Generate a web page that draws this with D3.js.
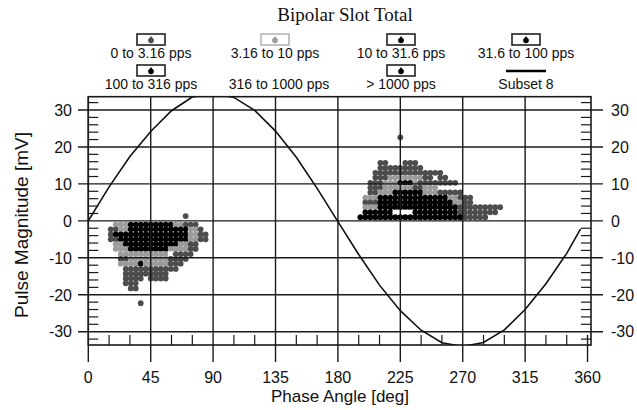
<!DOCTYPE html>
<html>
<head>
<meta charset="utf-8">
<script src="https://cdnjs.cloudflare.com/ajax/libs/d3/7.8.5/d3.min.js"></script>
<style>
  body { margin: 0; background: #fff; }
  svg { display: block; font-family: "Liberation Sans", Arial, sans-serif; }
</style>
</head>
<body>
<div id="chart"></div>
<script>
const width = 637
const height = 410

const categories = ["0 to 3.16 pps", "3.16 to 10 pps", "10 to 31.6 pps", "31.6 to 100 pps",
                    "100 to 316 pps", "316 to 1000 pps", "> 1000 pps"]
const curveName = "Subset 8"

const phaseTicks = [0, 45, 90, 135, 180, 225, 270, 315, 360]
const magTicks = [-30, -20, -10, 0, 10, 20, 30]

// reference sine (Subset 8), read every 15 deg
const curvePhase = [0, 15, 30, 45, 60, 75, 90, 105, 120, 135, 150, 165, 180,
                    195, 210, 225, 240, 255, 270, 285, 300, 315, 330, 345, 355]
const curveMag = [0, 9.2, 17.4, 24.2, 29.8, 33.5, 34.6, 33.4, 29.9, 24.3, 17.2, 8.8, -0.2,
                  -9.1, -17.4, -24.3, -29.6, -33.0, -34.0, -32.9, -29.5, -24.0, -17.0, -8.8, -2.2]

// pulse rows: [magnitude mV, [[phase from, phase to, category index], ...]]
const leftRows = [
  [1.3, [[70, 70, 0]]],
  [-1.0, [[20, 27, 1], [30, 59, 2], [63, 66, 1], [70, 77, 0]]],
  [-2.3, [[16, 20, 0], [23, 27, 1], [30, 70, 3], [74, 77, 1], [81, 81, 0]]],
  [-3.7, [[16, 16, 0], [20, 70, 2], [74, 77, 1], [81, 85, 0]]],
  [-5.0, [[16, 20, 0], [23, 70, 4], [74, 77, 1], [81, 85, 0]]],
  [-6.3, [[20, 23, 1], [27, 63, 6], [66, 70, 1], [74, 77, 0]]],
  [-7.6, [[20, 27, 1], [30, 56, 3], [59, 70, 1], [74, 77, 0]]],
  [-9.0, [[23, 56, 1], [59, 59, 5], [63, 74, 0]]],
  [-10.3, [[23, 27, 0], [30, 56, 1], [59, 70, 0]]],
  [-11.6, [[23, 34, 1], [38, 38, 2], [41, 56, 1], [59, 66, 0]]],
  [-13.0, [[27, 52, 0], [56, 63, 0]]],
  [-14.3, [[27, 56, 0]]],
  [-15.6, [[27, 38, 0], [45, 56, 0]]],
  [-16.9, [[27, 34, 0]]],
  [-18.3, [[30, 34, 0]]],
  [-22.3, [[38, 38, 0]]]
]
const rightRows = [
  [22.6, [[225, 225, 0]]],
  [15.7, [[211, 214, 0], [230, 237, 0]]],
  [14.3, [[211, 232, 0], [236, 239, 0]]],
  [13.0, [[208, 246, 0], [250, 254, 0]]],
  [11.7, [[207, 214, 0], [217, 239, 1], [243, 247, 0], [254, 257, 0]]],
  [10.3, [[205, 210, 0], [214, 221, 1], [225, 232, 2], [236, 236, 1], [239, 247, 0], [250, 264, 0]]],
  [9.0, [[204, 210, 0], [214, 232, 1], [236, 239, 0], [243, 250, 1]]],
  [7.7, [[204, 207, 0], [210, 217, 1], [221, 239, 2], [243, 250, 1], [254, 261, 0], [265, 268, 0]]],
  [6.3, [[201, 207, 1], [210, 257, 2], [261, 264, 1], [268, 275, 0]]],
  [5.0, [[201, 207, 0], [210, 261, 3], [264, 268, 1], [272, 275, 0]]],
  [3.7, [[199, 207, 1], [210, 264, 4], [268, 282, 0], [286, 297, 0]]],
  [2.3, [[199, 217, 6], [221, 232, 5], [236, 264, 2], [268, 293, 0]]],
  [1.0, [[196, 268, 6], [272, 286, 0]]]
]

const binWidth = 3.6

const svg = d3.select("#chart").append("svg")
    .attr("width", width)
    .attr("height", height)
    .style("background-color", "#fff")

const x = d3.scaleLinear().domain([0, 362.5]).range([88.3, 591])
const y = d3.scaleLinear().domain([-33.6, 33.6]).range([345, 96.7])
const color = d3.scaleOrdinal()
    .domain(d3.range(categories.length))
    .range(["#4d4d4d", "#9c9c9c", "#000", "#000", "#000", "#fff", "#000"])

// expand the row runs into phase bins
const pulses = []
for (const [mag, runs] of leftRows.concat(rightRows)) {
    for (const [from, to, cat] of runs) {
        const k0 = Math.round((from - binWidth / 2) / binWidth)
        const k1 = Math.round((to - binWidth / 2) / binWidth)
        for (let k = k0; k <= k1; k++) {
            pulses.push({ phase: binWidth / 2 + k * binWidth, mag: mag, cat: cat })
        }
    }
}

// title
svg.append("text")
    .attr("x", 345).attr("y", 21)
    .attr("text-anchor", "middle")
    .style("font-family", "'Liberation Serif', 'Times New Roman', serif")
    .style("font-size", "19px")
    .attr("fill", "#111")
    .text("Bipolar Slot Total")

// legend
const legendX = [151, 275, 401, 526]
const legendItems = categories.map((c, i) => ({ label: c, cat: i })).concat([{ label: curveName, cat: -1 }])
const legend = svg.append("g").attr("id", "legend")
legendItems.forEach((d, i) => {
    const cx = legendX[i % 4] + (i >= 4 && i % 4 === 1 ? 4 : 0)
    const row = Math.floor(i / 4)
    const by = row === 0 ? 34 : 65
    const g = legend.append("g")
    if (d.cat === -1) {
        g.append("line")
            .attr("x1", legendX[3] - 20).attr("x2", legendX[3] + 20)
            .attr("y1", 71).attr("y2", 71)
            .attr("stroke", "#000").attr("stroke-width", 2.5)
    } else if (d.cat !== 5) {
        const stroke = d.cat === 1 ? "#b5b5b5" : "#222"
        const bx = legendX[i % 4]
        g.append("rect")
            .attr("x", bx - 14).attr("y", by)
            .attr("width", 28).attr("height", 11)
            .attr("fill", "#fff")
            .attr("stroke", stroke).attr("stroke-width", 1.6)
        g.append("circle")
            .attr("cx", bx).attr("cy", by + 6.5).attr("r", 2.8)
            .attr("fill", color(d.cat))
        g.append("path")
            .attr("d", `M${bx - 2.9},${by + 6.3}L${bx},${by + 2}L${bx + 2.9},${by + 6.3}Z`)
            .attr("fill", color(d.cat))
    }
    g.append("text")
        .attr("x", cx).attr("y", row === 0 ? 58 : 89)
        .attr("text-anchor", "middle")
        .style("font-size", "14px")
        .attr("fill", "#111")
        .text(d.label)
})

// pulse dots
const dots = svg.append("g").attr("id", "pulses")
dots.selectAll(".pulse")
    .data(pulses)
    .join("circle")
    .attr("class", "pulse")
    .attr("cx", d => x(d.phase))
    .attr("cy", d => y(d.mag))
    .attr("r", 2.9)
    .attr("fill", d => color(d.cat))

const ink = "#1a1a1a"
const axes = svg.append("g").attr("id", "axes")
    .attr("stroke", ink)

// horizontal grid lines, poking out both sides as ticks
axes.selectAll(".hgrid")
    .data(magTicks)
    .join("line")
    .attr("class", "hgrid")
    .attr("x1", 78).attr("x2", 603)
    .attr("y1", d => y(d)).attr("y2", d => y(d))
    .attr("stroke-width", 1.4)

// vertical grid lines, running down as major ticks
axes.selectAll(".vgrid")
    .data(phaseTicks)
    .join("line")
    .attr("class", "vgrid")
    .attr("x1", d => x(d)).attr("x2", d => x(d))
    .attr("y1", d => d === 360 ? 335 : y.range()[1])
    .attr("y2", 362)
    .attr("stroke-width", 1.4)

// minor ticks
const minorMag = d3.range(-32, 33, 2).filter(v => v % 10 !== 0)
axes.selectAll(".yminorL")
    .data(minorMag)
    .join("line")
    .attr("x1", x(0)).attr("x2", x(0) + 10)
    .attr("y1", d => y(d)).attr("y2", d => y(d))
    .attr("stroke-width", 1.2)
axes.selectAll(".yminorR")
    .data(minorMag)
    .join("line")
    .attr("x1", 591 - 10).attr("x2", 591)
    .attr("y1", d => y(d)).attr("y2", d => y(d))
    .attr("stroke-width", 1.2)
const minorPhase = d3.range(15, 360, 15).filter(v => v % 45 !== 0)
axes.selectAll(".xminor")
    .data(minorPhase)
    .join("line")
    .attr("x1", d => x(d)).attr("x2", d => x(d))
    .attr("y1", 335).attr("y2", 345)
    .attr("stroke-width", 1.2)

// frame
axes.append("rect")
    .attr("x", x(0)).attr("y", y.range()[1])
    .attr("width", 591 - x(0)).attr("height", y.range()[0] - y.range()[1])
    .attr("fill", "none")
    .attr("stroke-width", 1.6)

// reference sine, clipped to the plot area
svg.append("clipPath").attr("id", "plotClip")
    .append("rect")
    .attr("x", x(0)).attr("y", y.range()[1])
    .attr("width", 591 - x(0)).attr("height", y.range()[0] - y.range()[1])
const curve = curvePhase.map((p, i) => [p, curveMag[i]])
svg.append("path")
    .datum(curve)
    .attr("clip-path", "url(#plotClip)")
    .attr("fill", "none")
    .attr("stroke", "#111")
    .attr("stroke-width", 1.6)
    .attr("d", d3.line().x(d => x(d[0])).y(d => y(d[1])))

// tick labels
const labels = svg.append("g").style("font-size", "16px").attr("fill", "#111")
labels.selectAll(".xlab")
    .data(phaseTicks)
    .join("text")
    .attr("x", d => x(d)).attr("y", 383)
    .attr("text-anchor", "middle")
    .text(d => d)
labels.selectAll(".ylabL")
    .data(magTicks)
    .join("text")
    .attr("x", 72).attr("y", d => y(d))
    .attr("dy", "0.36em")
    .attr("text-anchor", "end")
    .text(d => d)
labels.selectAll(".ylabR")
    .data(magTicks)
    .join("text")
    .attr("x", 611).attr("y", d => y(d))
    .attr("dy", "0.36em")
    .attr("text-anchor", "start")
    .text(d => d)

// axis titles
svg.append("text")
    .attr("x", 340).attr("y", 402)
    .attr("text-anchor", "middle")
    .style("font-size", "17px")
    .attr("fill", "#111")
    .text("Phase Angle [deg]")
svg.append("text")
    .attr("transform", "translate(28,225) rotate(-90)")
    .attr("text-anchor", "middle")
    .style("font-size", "19px")
    .attr("fill", "#111")
    .text("Pulse Magnitude [mV]")
</script>
</body>
</html>
